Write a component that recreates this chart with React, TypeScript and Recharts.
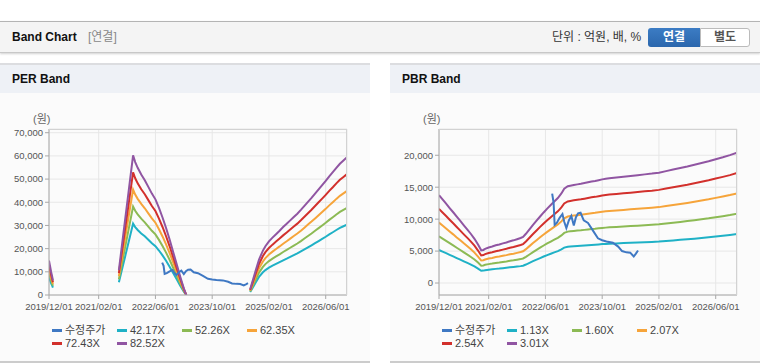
import React from 'react';
import { CartesianGrid, Line, LineChart, XAxis, YAxis } from 'recharts';

// x positions are months counted from 2019/12/01
const tickMonths = [0, 14, 30, 46, 62, 78];
const tickLabels = ['2019/12/01', '2021/02/01', '2022/06/01', '2023/10/01', '2025/02/01', '2026/06/01'];

const priceName = '수정주가';
const priceMonths = [31.9, 32.3, 32.6, 33.2, 34.0, 34.8, 35.3, 35.9, 36.6, 37.3, 38.0, 38.6, 39.2, 39.9, 40.8, 42.0, 43.4, 44.8, 46.0, 47.2, 49.0, 50.5, 51.6, 52.8, 53.9, 54.9, 55.5, 56.1];
const priceValues = [14000, 12600, 9100, 9400, 10200, 10800, 9600, 8600, 9800, 10500, 9000, 10300, 10900, 11000, 9800, 9400, 8200, 7000, 6700, 6500, 6300, 5700, 5000, 4800, 4750, 4150, 4600, 5100];

const perMultiples = [42.17, 52.26, 62.35, 72.43, 82.52];
const epsMonths = [0, 0.3, 0.6, 0.9, 1.1, 5, 19.7, 20.5, 21.5, 22.5, 23.7, 24.3, 25, 26, 27, 28, 29, 30, 31, 32, 33, 34, 35, 36, 37, 38, 38.7, 45, 56.7, 57.5, 58.3, 59.2, 60.3, 61, 62, 63, 64, 65, 66, 67, 68, 69, 70, 71, 72, 73, 74, 75, 76, 77, 78, 79, 80, 81, 82, 83, 84];
const epsValues = [180, 150, 120, 95, 76, null, 130, 250, 400, 550, 730, 695, 665, 630, 600, 565, 530, 500, 455, 405, 350, 290, 225, 160, 95, 35, 0, null, 30, 80, 130, 185, 232, 255, 280, 300, 318, 336, 355, 372, 390, 408, 425, 445, 466, 487, 508, 530, 552, 574, 596, 620, 642, 665, 686, 703, 720];

const pbrMultiples = [1.13, 1.6, 2.07, 2.54, 3.01];
const bpsMonths = [0, 1, 2, 3, 4, 5, 6, 7, 8, 9, 10, 11, 11.9, 12.5, 13, 14, 15, 16, 17, 18, 19, 20, 21, 22, 23, 23.7, 24.5, 25.5, 26.5, 27.5, 28.5, 29.5, 30.5, 31.5, 32.5, 33.5, 34.5, 35.3, 36.3, 37, 38, 39, 40, 41, 42, 43, 44, 45, 46, 47, 48, 50, 52, 54, 56, 58, 60, 62, 64, 66, 68, 70, 72, 74, 76, 78, 80, 82, 84];
const bpsValues = [4570, 4350, 4130, 3900, 3680, 3450, 3230, 3000, 2780, 2550, 2300, 2000, 1700, 1720, 1780, 1850, 1900, 1960, 2000, 2060, 2110, 2170, 2220, 2280, 2340, 2400, 2560, 2790, 3020, 3240, 3460, 3670, 3870, 4060, 4240, 4420, 4660, 4900, 5030, 5060, 5100, 5130, 5160, 5200, 5240, 5280, 5310, 5350, 5390, 5420, 5450, 5490, 5530, 5570, 5610, 5650, 5690, 5740, 5820, 5900, 5980, 6060, 6150, 6240, 6330, 6440, 6540, 6650, 6780];

const perTicks = [0, 10000, 20000, 30000, 40000, 50000, 60000, 70000];
const pbrTicks = [0, 5000, 10000, 15000, 20000];

const bandColors = ['#1fb1c6', '#8cba54', '#f6a43a', '#d2302c', '#9055a2'];
const priceColor = '#3f78c3';

const latin = 'Arial, "Liberation Sans", "Noto Sans CJK KR", sans-serif';
const axisStyle = { fontSize: 9.5, fill: '#555', fontFamily: latin };

interface PanelProps {
  title: string;
  left: number;
  multiples: number[];
  baseMonths: number[];
  baseValues: (number | null)[];
  yDomain: [number, number];
  yTicks: number[];
}

const BandPanel: React.FC<PanelProps> = ({ title, left, multiples, baseMonths, baseValues, yDomain, yTicks }) => {
  const bandRows = baseMonths.map((m, i) => {
    const row: Record<string, number | null> = { m };
    multiples.forEach((k, j) => {
      const v = baseValues[i];
      row['b' + j] = v == null ? null : Math.round(v * k);
    });
    return row;
  });
  const priceRows = priceMonths.map((m, i) => ({ m, p: priceValues[i] }));
  const legend = [
    { name: priceName, color: priceColor },
    ...multiples.map((k, j) => ({ name: k.toFixed(2) + 'X', color: bandColors[j] })),
  ];

  return (
    <>
      <div style={{ position: 'absolute', left, top: 63, width: 370, height: 298, background: '#fbfbfb', borderBottom: '2px solid #cccccc' }} />
      <div style={{ position: 'absolute', left, top: 63, width: 370, height: 28, background: '#eef1f6', borderTop: '2px solid #dcdde0' }}>
        <span style={{ position: 'absolute', left: 12, top: 0, lineHeight: '28px', fontSize: 12, fontWeight: 'bold', color: '#111', fontFamily: latin }}>{title}</span>
      </div>
      <div style={{ position: 'absolute', left: left + 33, top: 110, fontSize: 11, color: '#666', fontFamily: latin }}>(원)</div>
      <div style={{ position: 'absolute', left, top: 110 }}>
        <LineChart width={370} height={210} margin={{ top: 19, right: 23, bottom: 0, left: 0 }}>
          <CartesianGrid stroke="#e7e7e7" />
          <XAxis
            type="number"
            dataKey="m"
            domain={[0, 84]}
            ticks={tickMonths}
            allowDataOverflow
            height={25}
            tickSize={4}
            tickMargin={4}
            tick={axisStyle}
            interval={0}
            stroke="#a8a8a8"
            tickFormatter={(v: number) => tickLabels[tickMonths.indexOf(v)] ?? ''}
          />
          <YAxis
            type="number"
            domain={yDomain}
            ticks={yTicks}
            allowDataOverflow
            width={49}
            tickSize={4}
            tickMargin={2}
            tick={axisStyle}
            interval={0}
            stroke="#a8a8a8"
            tickFormatter={(v: number) => v.toLocaleString('en-US')}
          />
          {multiples.map((k, j) => (
            <Line
              key={k}
              data={bandRows}
              dataKey={'b' + j}
              type="linear"
              stroke={bandColors[j]}
              strokeWidth={2}
              dot={false}
              isAnimationActive={false}
            />
          ))}
          <Line data={priceRows} dataKey="p" type="linear" stroke={priceColor} strokeWidth={2} dot={false} isAnimationActive={false} />
        </LineChart>
      </div>
      <div style={{ position: 'absolute', left: left + 49, top: 129, width: 298, height: 166, borderTop: '1px solid #d2d2d2', borderRight: '1px solid #d2d2d2', boxSizing: 'border-box', pointerEvents: 'none' }} />
      <div style={{ position: 'absolute', left: left + 52, top: 324, width: 262, display: 'grid', gridTemplateColumns: 'repeat(4, 65px)', rowGap: 0, fontFamily: latin, fontSize: 11, color: '#444', lineHeight: '13.3px' }}>
        {legend.map((it) => (
          <div key={it.name} style={{ display: 'flex', alignItems: 'center', whiteSpace: 'nowrap' }}>
            <span style={{ display: 'inline-block', width: 10, height: 3, background: it.color, marginRight: 3 }} />
            <span>{it.name}</span>
          </div>
        ))}
      </div>
    </>
  );
};

export default function App() {
  return (
    <div style={{ position: 'absolute', left: 0, top: 0, width: 760, height: 364, background: '#fff', overflow: 'hidden', fontFamily: latin }}>
      <div style={{ position: 'absolute', left: 0, top: 21, width: 760, height: 30, background: '#f4f4f4', borderTop: '1px solid #b4b4b4', borderBottom: '1px solid #c8c8c8', boxShadow: '0 1px 2px rgba(0,0,0,0.18)' }}>
        <span style={{ position: 'absolute', left: 12, top: 0, lineHeight: '30px', fontSize: 12, fontWeight: 'bold', color: '#111' }}>Band Chart</span>
        <span style={{ position: 'absolute', left: 88, top: 0, lineHeight: '30px', fontSize: 12, color: '#888' }}>[연결]</span>
        <span style={{ position: 'absolute', left: 552, top: 0, lineHeight: '30px', fontSize: 12, color: '#333' }}>단위 : 억원, 배, %</span>
        <div style={{ position: 'absolute', left: 648, top: 6, width: 52, height: 19, background: 'linear-gradient(#3c7cc4, #2b67ad)', borderRadius: '3px 0 0 3px', color: '#fff', fontSize: 12, fontWeight: 'bold', textAlign: 'center', lineHeight: '19px' }}>연결</div>
        <div style={{ position: 'absolute', left: 700, top: 6, width: 48, height: 17, background: '#fff', border: '1px solid #bbbbbb', borderRadius: '0 3px 3px 0', color: '#555', fontSize: 12, fontWeight: 'bold', textAlign: 'center', lineHeight: '17px' }}>별도</div>
      </div>
      <BandPanel title="PER Band" left={0} multiples={perMultiples} baseMonths={epsMonths} baseValues={epsValues} yDomain={[0, 71600]} yTicks={perTicks} />
      <BandPanel title="PBR Band" left={390} multiples={pbrMultiples} baseMonths={bpsMonths} baseValues={bpsValues} yDomain={[-1875, 24110]} yTicks={pbrTicks} />
    </div>
  );
}
